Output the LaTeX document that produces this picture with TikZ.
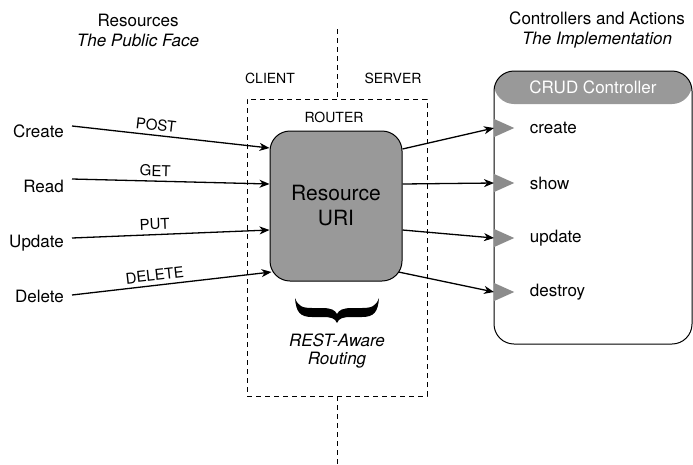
\documentclass[tikz,border=0pt]{standalone}
\usepackage{fontspec}
\setmainfont{TeX Gyre Heros}
\usetikzlibrary{shapes.geometric, arrows.meta, positioning}
\definecolor{boxgray}{HTML}{999999}
\definecolor{tipgray}{HTML}{8C8C8C}
\tikzstyle{arrow} = [line width=1.3pt, -{Stealth[length=10pt, width=8pt, inset=3pt]}]
\tikzstyle{dashline} = [line width=0.8pt, dash pattern=on 5pt off 4pt]
\tikzstyle{title} = [align=center, font=\fontsize{17}{20}\selectfont]
\tikzstyle{word} = [font=\fontsize{17}{20}\selectfont, inner sep=0pt]
\tikzstyle{verb} = [font=\fontsize{15}{17}\selectfont, sloped, above, inner sep=4pt, pos=0.42]
\tikzstyle{side} = [font=\fontsize{14}{17}\selectfont]
\tikzstyle{marker} = [isosceles triangle, isosceles triangle stretches, fill=tipgray, minimum width=18pt, minimum height=20pt, inner sep=0pt, anchor=west]

\begin{document}
\begin{tikzpicture}[x=1pt, y=-1pt]
    \useasboundingbox (0,0) rectangle (693,464);

    \node[title] (res) at (138,30) {Resources\\\textit{The Public Face}};
    \node[title] (ctl) at (597,30) {Controllers and Actions\\\textit{The Implementation}};

    \node[draw, dashline, minimum width=180pt, minimum height=297pt] (router) at (337,247.5) {};
    \coordinate (splittop) at (337,29);
    \coordinate (splitbot) at (337,464);
    \draw[dashline] (splittop) -- (router.north);
    \draw[dashline] (router.south) -- (splitbot);
    \node[side] (client) at (270,78) {CLIENT};
    \node[side] (server) at (393,78) {SERVER};
    \node[side] (rtr) at (334,117) {ROUTER};

    \node[draw, fill=boxgray, line width=1pt, rounded corners=20pt, minimum width=132pt,
        minimum height=150pt, align=center, font=\fontsize{21}{25}\selectfont] (uri) at (336,206) {Resource\\URI};
    \fill (295,298) .. controls (296,312) and (300,317) .. (312,317) -- (322,317)
        .. controls (331,317) and (335,318) .. (337,323)
        .. controls (339,318) and (343,317) .. (352,317) -- (362,317)
        .. controls (374,317) and (378,312) .. (379,298)
        .. controls (376,306) and (372,308) .. (362,308) -- (352,308)
        .. controls (343,308) and (339,310) .. (337,314)
        .. controls (335,310) and (331,308) .. (322,308) -- (312,308)
        .. controls (302,308) and (298,306) .. (295,298) -- cycle;
    \node[title, font=\fontsize{17}{18}\selectfont\itshape] (rest) at (337,351) {REST-Aware\\Routing};

    \node[word, anchor=base east] (create) at (64,137) {Create};
    \node[word, anchor=base east] (read) at (64,192) {Read};
    \node[word, anchor=base east] (update) at (64,247) {Update};
    \node[word, anchor=base east] (delete) at (64,302) {Delete};

    \path[arrow]
        ([shift={(8pt,11pt)}]create.base east) edge node[verb] {POST} ([yshift=58pt]uri.west)
        ([shift={(8pt,13pt)}]read.base east) edge node[verb] {GET} ([yshift=22pt]uri.west)
        ([shift={(8pt,9pt)}]update.base east) edge node[verb] {PUT} ([yshift=-24pt]uri.west)
        ([shift={(8pt,7pt)}]delete.base east) edge node[verb] {DELETE} ([shift={(2pt,-66pt)}]uri.west);

    \node[draw, line width=1pt, rounded corners=20pt, minimum width=198pt, minimum height=273pt,
        path picture={\fill[boxgray] (path picture bounding box.north west) rectangle ([yshift=-33pt]path picture bounding box.north east);}] (crud) at (593,207.5) {};
    \node[font=\fontsize{17}{20}\selectfont, text=white] (crudtitle) at ([yshift=-17pt]crud.north) {CRUD Controller};

    \node[marker] (mcreate) at (494,128) {};
    \node[marker] (mshow) at (494,183) {};
    \node[marker] (mupdate) at (494,238) {};
    \node[marker] (mdestroy) at (494,292) {};
    \node[word, right=15pt of mcreate] (acreate) {create};
    \node[word, right=15pt of mshow] (ashow) {show};
    \node[word, right=15pt of mupdate] (aupdate) {update};
    \node[word, right=15pt of mdestroy] (adestroy) {destroy};

    \path[arrow]
        ([yshift=57pt]uri.east) edge (mcreate.west)
        ([yshift=22pt]uri.east) edge (mshow.west)
        ([yshift=-24pt]uri.east) edge (mupdate.west)
        ([shift={(-4pt,-66pt)}]uri.east) edge (mdestroy.west);
\end{tikzpicture}
\end{document}
